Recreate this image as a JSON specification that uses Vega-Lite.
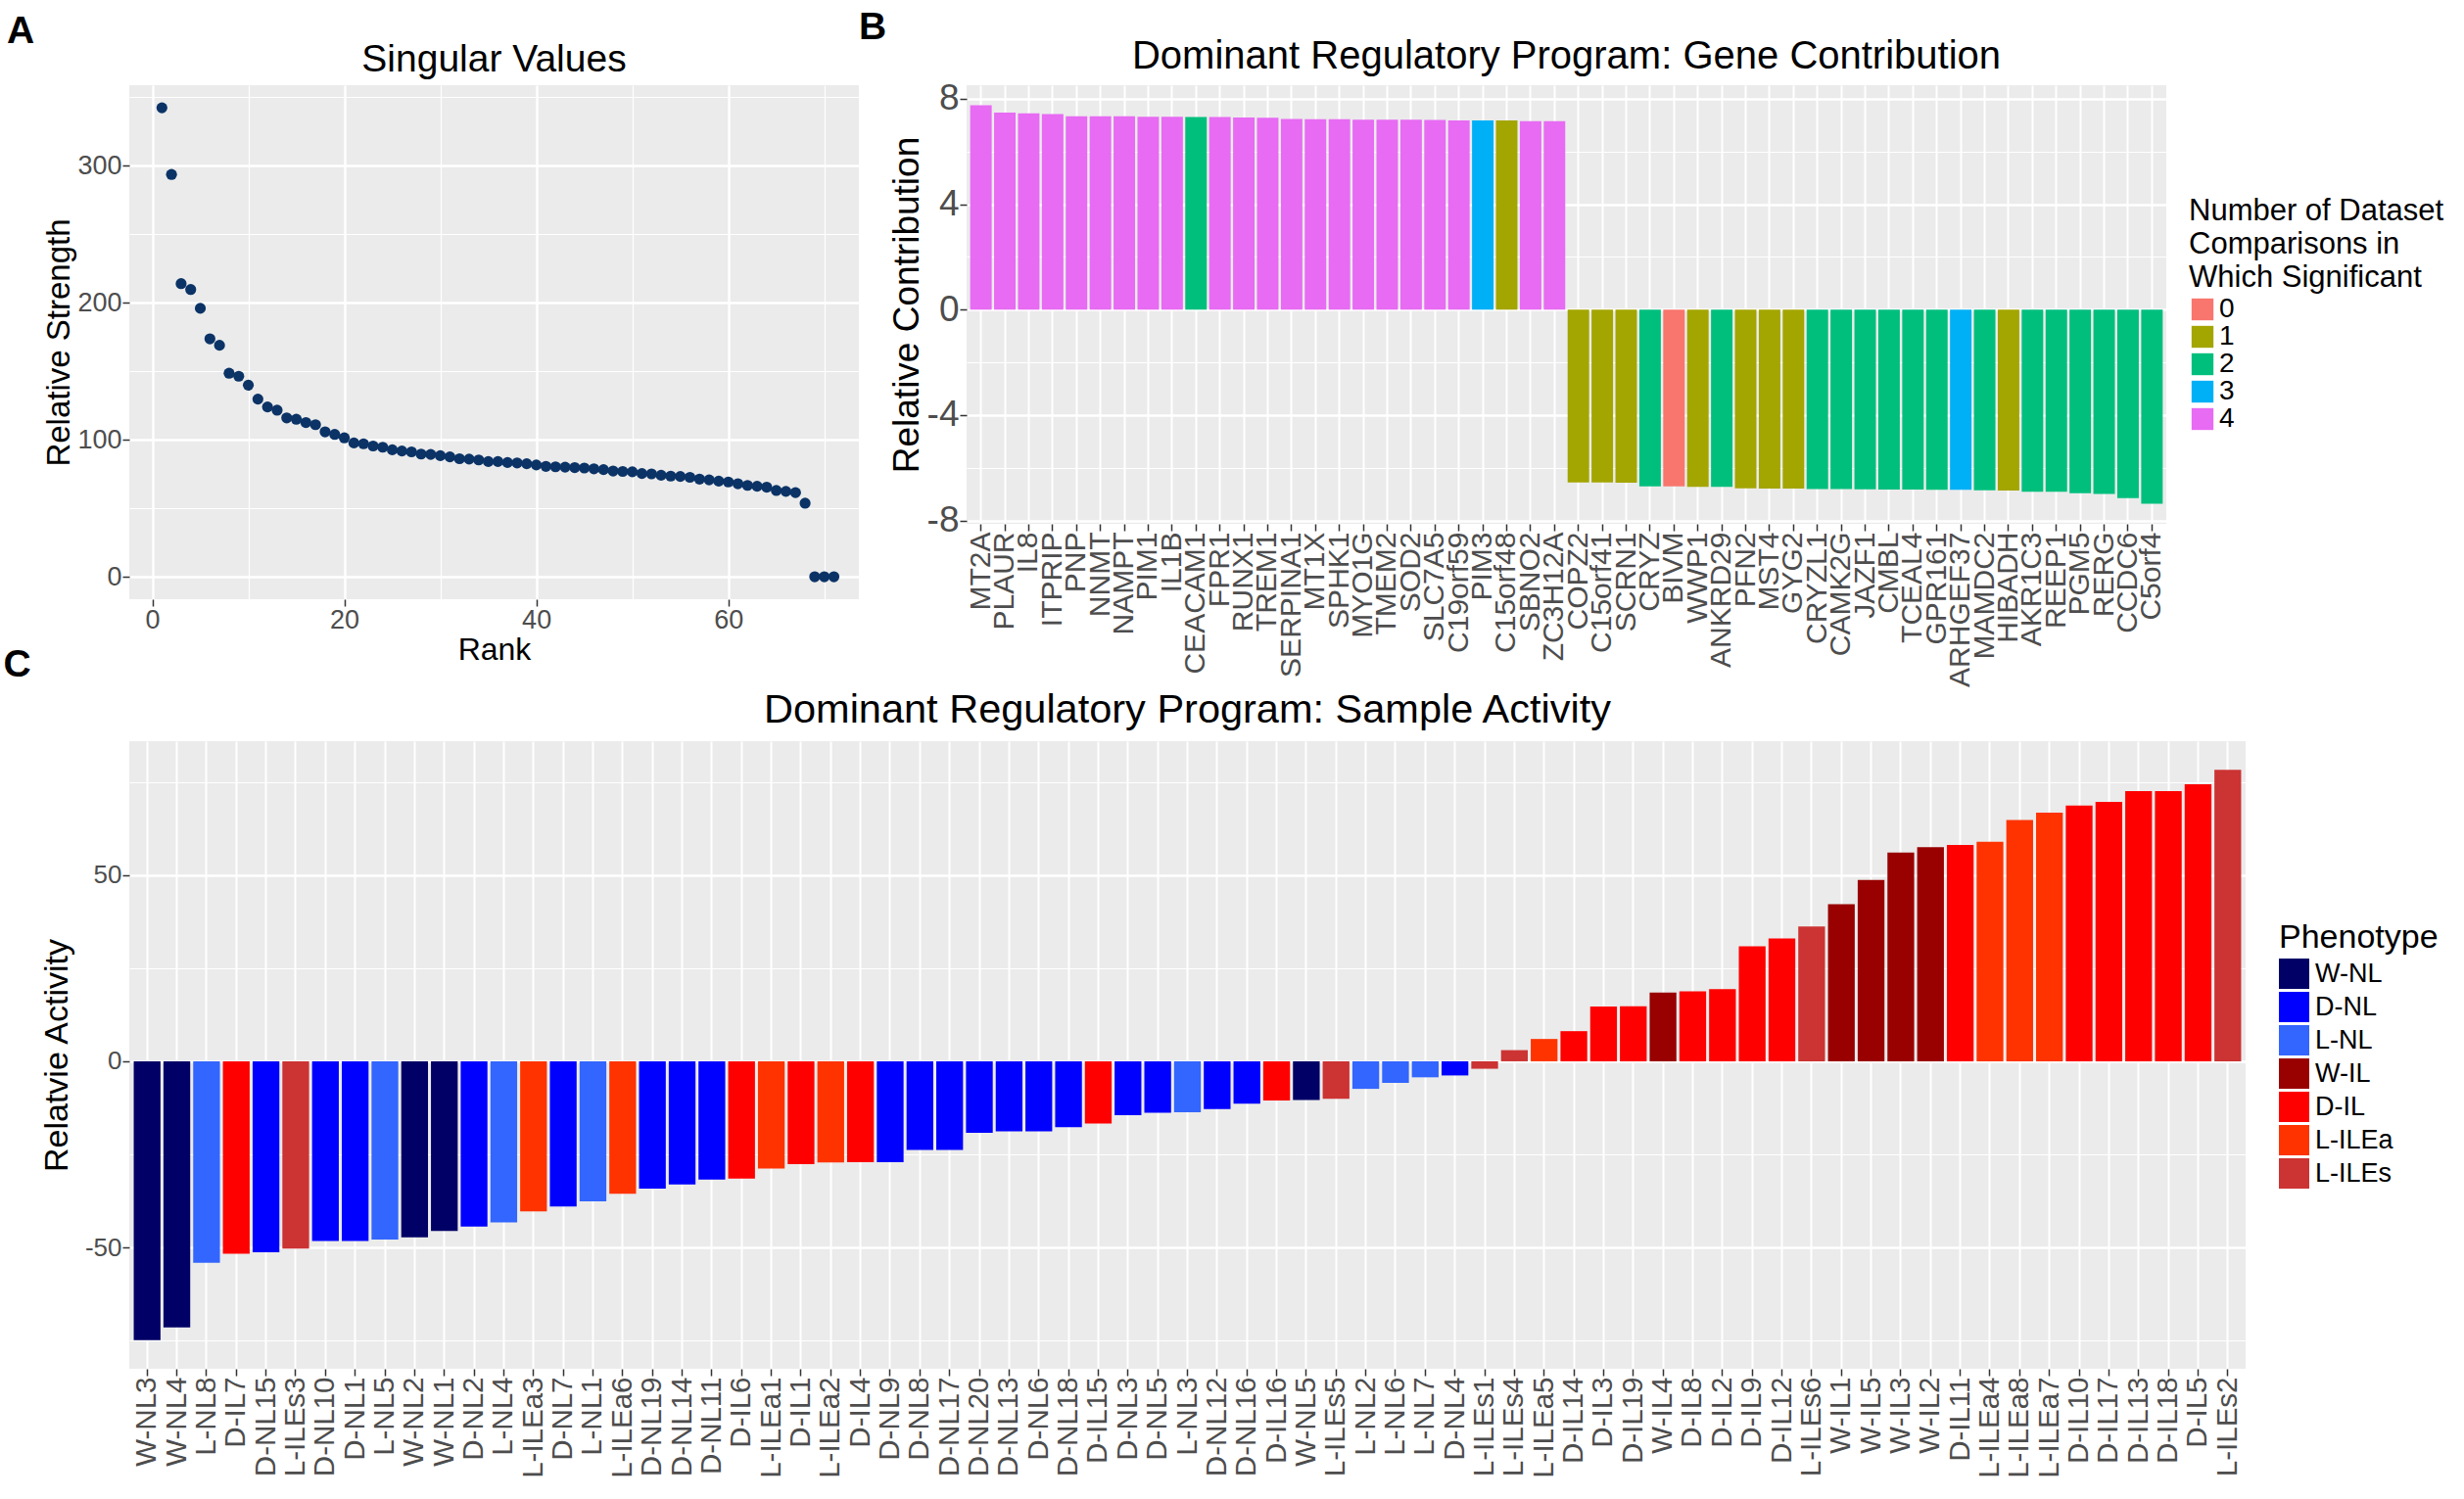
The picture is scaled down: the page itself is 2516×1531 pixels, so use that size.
{
  "$schema": "https://vega.github.io/schema/vega-lite/v6.json",
  "background": "white",
  "padding": {"left": 3, "top": 8, "right": 5, "bottom": 0},
  "config": {
    "font": "Liberation Sans",
    "view": {"fill": "#EBEBEB", "stroke": null},
    "axis": {
      "domain": false,
      "gridColor": "#FFFFFF",
      "tickColor": "#333333",
      "tickWidth": 1.5,
      "tickSize": 7,
      "labelColor": "#4D4D4D",
      "titleColor": "#000000",
      "titleFontWeight": "normal",
      "labelPadding": 1,
      "labelFlush": false,
      "labelOverlap": false
    },
    "title": {"color": "#000000", "fontWeight": "normal"},
    "legend": {
      "titleFontWeight": "normal",
      "titleColor": "#000000",
      "labelColor": "#000000",
      "titleLimit": 1000,
      "labelLimit": 1000,
      "symbolType": "square",
      "symbolStrokeWidth": 0,
      "symbolOpacity": 1
    }
  },
  "resolve": {"scale": {"color": "independent"}, "legend": {"color": "independent"}},
  "spacing": -43,
  "vconcat": [
    {
      "spacing": 0,
      "resolve": {"scale": {"color": "independent"}, "legend": {"color": "independent"}},
      "hconcat": [
        {
          "title": {"text": "A", "anchor": "start", "frame": "bounds", "fontSize": 39, "fontWeight": "bold", "dx": -38, "offset": -10},
          "vconcat": [
            {
              "width": 745,
              "height": 525,
              "title": {"text": "Singular Values", "fontSize": 39, "offset": 4},
              "data": {
                "values": [
                  {"rank": 1, "strength": 342.4}, {"rank": 2, "strength": 293.7}, {"rank": 3, "strength": 214.0},
                  {"rank": 4, "strength": 209.7}, {"rank": 5, "strength": 196.0}, {"rank": 6, "strength": 173.7},
                  {"rank": 7, "strength": 169.0}, {"rank": 8, "strength": 148.6}, {"rank": 9, "strength": 146.4},
                  {"rank": 10, "strength": 139.9}, {"rank": 11, "strength": 129.7}, {"rank": 12, "strength": 124.0},
                  {"rank": 13, "strength": 121.6}, {"rank": 14, "strength": 116.0}, {"rank": 15, "strength": 115.0},
                  {"rank": 16, "strength": 112.6}, {"rank": 17, "strength": 111.0}, {"rank": 18, "strength": 105.8},
                  {"rank": 19, "strength": 103.9}, {"rank": 20, "strength": 101.4}, {"rank": 21, "strength": 97.7},
                  {"rank": 22, "strength": 97.1}, {"rank": 23, "strength": 95.5}, {"rank": 24, "strength": 94.6},
                  {"rank": 25, "strength": 92.7}, {"rank": 26, "strength": 91.8}, {"rank": 27, "strength": 91.2},
                  {"rank": 28, "strength": 89.6}, {"rank": 29, "strength": 89.3}, {"rank": 30, "strength": 88.4},
                  {"rank": 31, "strength": 87.5}, {"rank": 32, "strength": 86.2}, {"rank": 33, "strength": 85.9},
                  {"rank": 34, "strength": 85.3}, {"rank": 35, "strength": 84.1}, {"rank": 36, "strength": 84.1},
                  {"rank": 37, "strength": 83.4}, {"rank": 38, "strength": 83.1}, {"rank": 39, "strength": 82.5},
                  {"rank": 40, "strength": 81.6}, {"rank": 41, "strength": 80.6}, {"rank": 42, "strength": 80.3},
                  {"rank": 43, "strength": 80.0}, {"rank": 44, "strength": 79.7}, {"rank": 45, "strength": 79.4},
                  {"rank": 46, "strength": 78.8}, {"rank": 47, "strength": 78.2}, {"rank": 48, "strength": 77.2},
                  {"rank": 49, "strength": 76.9}, {"rank": 50, "strength": 76.6}, {"rank": 51, "strength": 75.4},
                  {"rank": 52, "strength": 75.1}, {"rank": 53, "strength": 74.1}, {"rank": 54, "strength": 73.5},
                  {"rank": 55, "strength": 73.2}, {"rank": 56, "strength": 72.6}, {"rank": 57, "strength": 71.3},
                  {"rank": 58, "strength": 70.7}, {"rank": 59, "strength": 69.8}, {"rank": 60, "strength": 69.2},
                  {"rank": 61, "strength": 67.9}, {"rank": 62, "strength": 66.7}, {"rank": 63, "strength": 66.1},
                  {"rank": 64, "strength": 65.4}, {"rank": 65, "strength": 63.0}, {"rank": 66, "strength": 62.3},
                  {"rank": 67, "strength": 61.4}, {"rank": 68, "strength": 53.7}, {"rank": 69, "strength": 0},
                  {"rank": 70, "strength": 0}, {"rank": 71, "strength": 0}
                ]
              },
              "mark": {"type": "circle", "size": 125, "color": "#0B3366", "opacity": 1},
              "encoding": {
                "x": {
                  "field": "rank",
                  "type": "quantitative",
                  "title": "Rank",
                  "scale": {"domain": [-2.4, 73.6], "nice": false, "zero": false},
                  "axis": {
                    "values": [0, 10, 20, 30, 40, 50, 60, 70],
                    "labelExpr": "datum.value % 20 === 0 ? datum.label : ''",
                    "labelFontSize": 27,
                    "titleFontSize": 32,
                    "titlePadding": 2,
                    "gridWidth": {"condition": {"test": "datum.value % 20 === 0", "value": 2.4}, "value": 1.2},
                    "tickOpacity": {"condition": {"test": "datum.value % 20 === 0", "value": 1}, "value": 0}
                  }
                },
                "y": {
                  "field": "strength",
                  "type": "quantitative",
                  "title": "Relative Strength",
                  "scale": {"domain": [-16.4, 358.9], "nice": false, "zero": false},
                  "axis": {
                    "values": [0, 50, 100, 150, 200, 250, 300, 350],
                    "labelExpr": "datum.value % 100 === 0 ? datum.label : ''",
                    "labelFontSize": 27,
                    "titleFontSize": 33,
                    "titlePadding": 1,
                    "gridWidth": {"condition": {"test": "datum.value % 100 === 0", "value": 2.4}, "value": 1.2},
                    "tickOpacity": {"condition": {"test": "datum.value % 100 === 0", "value": 1}, "value": 0}
                  }
                }
              }
            }
          ]
        },
        {
          "title": {"text": "B", "anchor": "start", "frame": "bounds", "fontSize": 39, "fontWeight": "bold", "dx": -30, "offset": -10},
          "vconcat": [
            {
              "width": 1225,
              "height": 448,
              "title": {"text": "Dominant Regulatory Program: Gene Contribution", "fontSize": 40, "offset": 4},
              "data": {
                "values": [
                  {"gene": "MT2A", "contribution": 7.76, "sig": "4"},
                  {"gene": "PLAUR", "contribution": 7.48, "sig": "4"},
                  {"gene": "IL8", "contribution": 7.45, "sig": "4"},
                  {"gene": "ITPRIP", "contribution": 7.42, "sig": "4"},
                  {"gene": "PNP", "contribution": 7.34, "sig": "4"},
                  {"gene": "NNMT", "contribution": 7.34, "sig": "4"},
                  {"gene": "NAMPT", "contribution": 7.34, "sig": "4"},
                  {"gene": "PIM1", "contribution": 7.32, "sig": "4"},
                  {"gene": "IL1B", "contribution": 7.32, "sig": "4"},
                  {"gene": "CEACAM1", "contribution": 7.31, "sig": "2"},
                  {"gene": "FPR1", "contribution": 7.31, "sig": "4"},
                  {"gene": "RUNX1", "contribution": 7.29, "sig": "4"},
                  {"gene": "TREM1", "contribution": 7.28, "sig": "4"},
                  {"gene": "SERPINA1", "contribution": 7.24, "sig": "4"},
                  {"gene": "MT1X", "contribution": 7.23, "sig": "4"},
                  {"gene": "SPHK1", "contribution": 7.23, "sig": "4"},
                  {"gene": "MYO1G", "contribution": 7.21, "sig": "4"},
                  {"gene": "TMEM2", "contribution": 7.21, "sig": "4"},
                  {"gene": "SOD2", "contribution": 7.21, "sig": "4"},
                  {"gene": "SLC7A5", "contribution": 7.2, "sig": "4"},
                  {"gene": "C19orf59", "contribution": 7.18, "sig": "4"},
                  {"gene": "PIM3", "contribution": 7.18, "sig": "3"},
                  {"gene": "C15orf48", "contribution": 7.18, "sig": "1"},
                  {"gene": "SBNO2", "contribution": 7.15, "sig": "4"},
                  {"gene": "ZC3H12A", "contribution": 7.15, "sig": "4"},
                  {"gene": "COPZ2", "contribution": -6.56, "sig": "1"},
                  {"gene": "C15orf41", "contribution": -6.56, "sig": "1"},
                  {"gene": "SCRN1", "contribution": -6.57, "sig": "1"},
                  {"gene": "CRYZ", "contribution": -6.71, "sig": "2"},
                  {"gene": "BIVM", "contribution": -6.71, "sig": "0"},
                  {"gene": "WWP1", "contribution": -6.73, "sig": "1"},
                  {"gene": "ANKRD29", "contribution": -6.73, "sig": "2"},
                  {"gene": "PFN2", "contribution": -6.78, "sig": "1"},
                  {"gene": "MST4", "contribution": -6.79, "sig": "1"},
                  {"gene": "GYG2", "contribution": -6.79, "sig": "1"},
                  {"gene": "CRYZL1", "contribution": -6.81, "sig": "2"},
                  {"gene": "CAMK2G", "contribution": -6.81, "sig": "2"},
                  {"gene": "JAZF1", "contribution": -6.82, "sig": "2"},
                  {"gene": "CMBL", "contribution": -6.83, "sig": "2"},
                  {"gene": "TCEAL4", "contribution": -6.83, "sig": "2"},
                  {"gene": "GPR161", "contribution": -6.84, "sig": "2"},
                  {"gene": "ARHGEF37", "contribution": -6.84, "sig": "3"},
                  {"gene": "MAMDC2", "contribution": -6.86, "sig": "2"},
                  {"gene": "HIBADH", "contribution": -6.87, "sig": "1"},
                  {"gene": "AKR1C3", "contribution": -6.91, "sig": "2"},
                  {"gene": "REEP1", "contribution": -6.91, "sig": "2"},
                  {"gene": "PGM5", "contribution": -6.97, "sig": "2"},
                  {"gene": "RERG", "contribution": -7.0, "sig": "2"},
                  {"gene": "CCDC6", "contribution": -7.15, "sig": "2"},
                  {"gene": "C5orf4", "contribution": -7.37, "sig": "2"}
                ]
              },
              "mark": {"type": "bar"},
              "encoding": {
                "x": {
                  "field": "gene",
                  "type": "nominal",
                  "sort": null,
                  "title": null,
                  "scale": {"paddingInner": 0.1, "paddingOuter": 0.15},
                  "axis": {"labelAngle": 270, "labelFontSize": 30, "labelDx": 11, "grid": true, "gridWidth": 2, "bandPosition": 0.5}
                },
                "y": {
                  "field": "contribution",
                  "type": "quantitative",
                  "title": "Relative Contribution",
                  "scale": {"domain": [-8.13, 8.52], "nice": false, "zero": false},
                  "axis": {
                    "values": [-8, -6, -4, -2, 0, 2, 4, 6, 8],
                    "labelExpr": "datum.value % 4 === 0 ? replace(datum.label, '\u2212', '-') : ''",
                    "labelFontSize": 37,
                    "titleFontSize": 37,
                    "titlePadding": 1,
                    "gridWidth": {"condition": {"test": "datum.value % 4 === 0", "value": 2.4}, "value": 1.2},
                    "tickOpacity": {"condition": {"test": "datum.value % 4 === 0", "value": 1}, "value": 0}
                  }
                },
                "color": {
                  "field": "sig",
                  "type": "nominal",
                  "scale": {"domain": ["0", "1", "2", "3", "4"], "range": ["#F8766D", "#A3A500", "#00BF7D", "#00B0F6", "#E76BF3"]},
                  "legend": {
                    "title": ["Number of Dataset", "Comparisons in", "Which Significant"],
                    "orient": "none",
                    "legendX": 1248,
                    "legendY": 114,
                    "titleFontSize": 31,
                    "titleLineHeight": 34,
                    "titlePadding": 2,
                    "labelFontSize": 28,
                    "labelOffset": 3,
                    "symbolSize": 500,
                    "rowPadding": -5
                  }
                }
              }
            }
          ]
        }
      ]
    },
    {
      "title": {"text": "C", "anchor": "start", "frame": "bounds", "fontSize": 39, "fontWeight": "bold", "dx": -38, "offset": 6},
      "vconcat": [
        {
          "width": 2161,
          "height": 641,
          "title": {"text": "Dominant Regulatory Program: Sample Activity", "fontSize": 41.5, "offset": 11},
          "data": {
            "values": [
              {"sample": "W-NL3", "activity": -74.9, "phenotype": "W-NL"},
              {"sample": "W-NL4", "activity": -71.5, "phenotype": "W-NL"},
              {"sample": "L-NL8", "activity": -54.1, "phenotype": "L-NL"},
              {"sample": "D-IL7", "activity": -51.7, "phenotype": "D-IL"},
              {"sample": "D-NL15", "activity": -51.3, "phenotype": "D-NL"},
              {"sample": "L-ILEs3", "activity": -50.3, "phenotype": "L-ILEs"},
              {"sample": "D-NL10", "activity": -48.3, "phenotype": "D-NL"},
              {"sample": "D-NL1", "activity": -48.3, "phenotype": "D-NL"},
              {"sample": "L-NL5", "activity": -47.9, "phenotype": "L-NL"},
              {"sample": "W-NL2", "activity": -47.3, "phenotype": "W-NL"},
              {"sample": "W-NL1", "activity": -45.6, "phenotype": "W-NL"},
              {"sample": "D-NL2", "activity": -44.4, "phenotype": "D-NL"},
              {"sample": "L-NL4", "activity": -43.3, "phenotype": "L-NL"},
              {"sample": "L-ILEa3", "activity": -40.3, "phenotype": "L-ILEa"},
              {"sample": "D-NL7", "activity": -39.0, "phenotype": "D-NL"},
              {"sample": "L-NL1", "activity": -37.6, "phenotype": "L-NL"},
              {"sample": "L-ILEa6", "activity": -35.6, "phenotype": "L-ILEa"},
              {"sample": "D-NL19", "activity": -34.2, "phenotype": "D-NL"},
              {"sample": "D-NL14", "activity": -33.1, "phenotype": "D-NL"},
              {"sample": "D-NL11", "activity": -31.8, "phenotype": "D-NL"},
              {"sample": "D-IL6", "activity": -31.5, "phenotype": "D-IL"},
              {"sample": "L-ILEa1", "activity": -28.8, "phenotype": "L-ILEa"},
              {"sample": "D-IL1", "activity": -27.6, "phenotype": "D-IL"},
              {"sample": "L-ILEa2", "activity": -27.2, "phenotype": "L-ILEa"},
              {"sample": "D-IL4", "activity": -27.1, "phenotype": "D-IL"},
              {"sample": "D-NL9", "activity": -27.1, "phenotype": "D-NL"},
              {"sample": "D-NL8", "activity": -23.8, "phenotype": "D-NL"},
              {"sample": "D-NL17", "activity": -23.8, "phenotype": "D-NL"},
              {"sample": "D-NL20", "activity": -19.2, "phenotype": "D-NL"},
              {"sample": "D-NL13", "activity": -18.8, "phenotype": "D-NL"},
              {"sample": "D-NL6", "activity": -18.8, "phenotype": "D-NL"},
              {"sample": "D-NL18", "activity": -17.7, "phenotype": "D-NL"},
              {"sample": "D-IL15", "activity": -16.7, "phenotype": "D-IL"},
              {"sample": "D-NL3", "activity": -14.5, "phenotype": "D-NL"},
              {"sample": "D-NL5", "activity": -13.8, "phenotype": "D-NL"},
              {"sample": "L-NL3", "activity": -13.7, "phenotype": "L-NL"},
              {"sample": "D-NL12", "activity": -12.8, "phenotype": "D-NL"},
              {"sample": "D-NL16", "activity": -11.4, "phenotype": "D-NL"},
              {"sample": "D-IL16", "activity": -10.5, "phenotype": "D-IL"},
              {"sample": "W-NL5", "activity": -10.4, "phenotype": "W-NL"},
              {"sample": "L-ILEs5", "activity": -10.1, "phenotype": "L-ILEs"},
              {"sample": "L-NL2", "activity": -7.4, "phenotype": "L-NL"},
              {"sample": "L-NL6", "activity": -5.8, "phenotype": "L-NL"},
              {"sample": "L-NL7", "activity": -4.3, "phenotype": "L-NL"},
              {"sample": "D-NL4", "activity": -3.8, "phenotype": "D-NL"},
              {"sample": "L-ILEs1", "activity": -2.0, "phenotype": "L-ILEs"},
              {"sample": "L-ILEs4", "activity": 3.0, "phenotype": "L-ILEs"},
              {"sample": "L-ILEa5", "activity": 6.0, "phenotype": "L-ILEa"},
              {"sample": "D-IL14", "activity": 8.1, "phenotype": "D-IL"},
              {"sample": "D-IL3", "activity": 14.7, "phenotype": "D-IL"},
              {"sample": "D-IL19", "activity": 14.8, "phenotype": "D-IL"},
              {"sample": "W-IL4", "activity": 18.5, "phenotype": "W-IL"},
              {"sample": "D-IL8", "activity": 18.8, "phenotype": "D-IL"},
              {"sample": "D-IL2", "activity": 19.4, "phenotype": "D-IL"},
              {"sample": "D-IL9", "activity": 30.9, "phenotype": "D-IL"},
              {"sample": "D-IL12", "activity": 33.0, "phenotype": "D-IL"},
              {"sample": "L-ILEs6", "activity": 36.2, "phenotype": "L-ILEs"},
              {"sample": "W-IL1", "activity": 42.2, "phenotype": "W-IL"},
              {"sample": "W-IL5", "activity": 48.7, "phenotype": "W-IL"},
              {"sample": "W-IL3", "activity": 56.1, "phenotype": "W-IL"},
              {"sample": "W-IL2", "activity": 57.5, "phenotype": "W-IL"},
              {"sample": "D-IL11", "activity": 58.1, "phenotype": "D-IL"},
              {"sample": "L-ILEa4", "activity": 59.0, "phenotype": "L-ILEa"},
              {"sample": "L-ILEa8", "activity": 64.8, "phenotype": "L-ILEa"},
              {"sample": "L-ILEa7", "activity": 66.8, "phenotype": "L-ILEa"},
              {"sample": "D-IL10", "activity": 68.7, "phenotype": "D-IL"},
              {"sample": "D-IL17", "activity": 69.7, "phenotype": "D-IL"},
              {"sample": "D-IL13", "activity": 72.6, "phenotype": "D-IL"},
              {"sample": "D-IL18", "activity": 72.6, "phenotype": "D-IL"},
              {"sample": "D-IL5", "activity": 74.4, "phenotype": "D-IL"},
              {"sample": "L-ILEs2", "activity": 78.3, "phenotype": "L-ILEs"}
            ]
          },
          "mark": {"type": "bar"},
          "encoding": {
            "x": {
              "field": "sample",
              "type": "nominal",
              "sort": null,
              "title": null,
              "scale": {"paddingInner": 0.1, "paddingOuter": 0.15},
              "axis": {"labelAngle": 270, "labelFontSize": 29.5, "labelDx": 12, "grid": true, "gridWidth": 2, "bandPosition": 0.5}
            },
            "y": {
              "field": "activity",
              "type": "quantitative",
              "title": "Relatvie Activity",
              "scale": {"domain": [-82.6, 86.0], "nice": false, "zero": false},
              "axis": {
                "values": [-75, -50, -25, 0, 25, 50, 75],
                "labelExpr": "datum.value % 50 === 0 ? replace(datum.label, '\u2212', '-') : ''",
                "labelFontSize": 26,
                "titleFontSize": 34,
                "titlePadding": 11,
                "gridWidth": {"condition": {"test": "datum.value % 50 === 0", "value": 2.4}, "value": 1.2},
                "tickOpacity": {"condition": {"test": "datum.value % 50 === 0", "value": 1}, "value": 0}
              }
            },
            "color": {
              "field": "phenotype",
              "type": "nominal",
              "scale": {
                "domain": ["W-NL", "D-NL", "L-NL", "W-IL", "D-IL", "L-ILEa", "L-ILEs"],
                "range": ["#000066", "#0000FF", "#3366FF", "#990000", "#FF0000", "#FF3300", "#CC3333"]
              },
              "legend": {
                "title": "Phenotype",
                "orient": "none",
                "legendX": 2195,
                "legendY": 184,
                "titleFontSize": 34,
                "titlePadding": 4,
                "labelFontSize": 27,
                "labelOffset": 6,
                "symbolSize": 961,
                "rowPadding": 3
              }
            }
          }
        }
      ]
    }
  ]
}
